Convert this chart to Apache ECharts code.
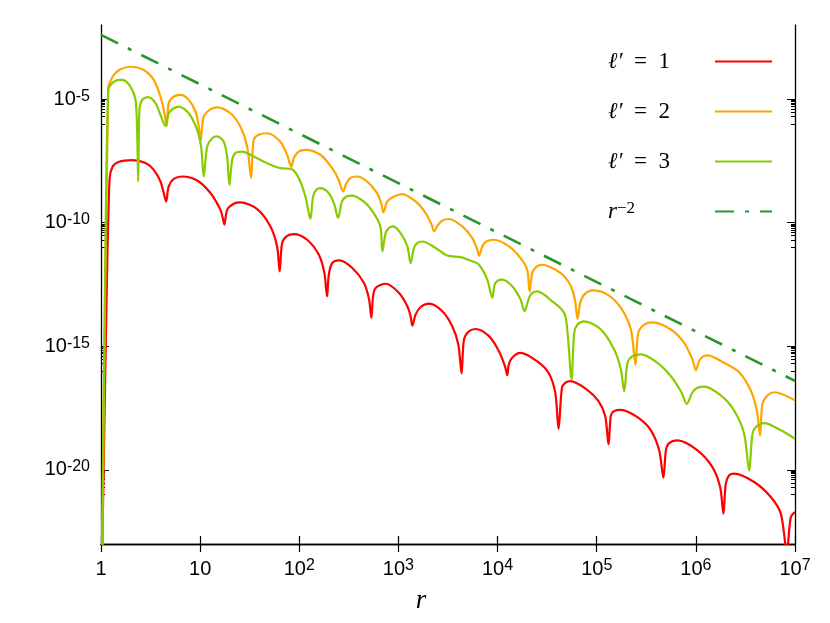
<!DOCTYPE html>
<html>
<head>
<meta charset="utf-8">
<script src="https://cdn.jsdelivr.net/npm/echarts@6/dist/echarts.min.js"></script>
<style>
html, body { margin: 0; padding: 0; background: #fff; }
#chart { width: 830px; height: 623px; }
</style>
</head>
<body>
<div id="chart"></div>
<script>
'use strict';

// values, stored as [log10 r, log10 value]
var red = [
    [0.012, -23.5], [0.055, -13.39], [0.086, -8.26], [0.116, -7.74], [0.176, -7.54],
    [0.315, -7.47], [0.449, -7.58], [0.532, -7.86], [0.600, -8.33], [0.633, -8.80], [0.657, -9.14],
    [0.683, -8.53], [0.734, -8.23], [0.819, -8.13], [0.970, -8.29], [1.104, -8.80], [1.205, -9.48], [1.228, -9.81], [1.245, -10.08],
    [1.272, -9.48], [1.339, -9.23], [1.406, -9.18], [1.575, -9.45], [1.709, -10.15], [1.776, -10.96], [1.802, -11.97],
    [1.827, -10.82], [1.877, -10.53], [1.944, -10.46], [2.079, -10.69], [2.196, -11.29], [2.253, -12.03], [2.280, -12.98],
    [2.298, -12.10], [2.334, -11.62], [2.404, -11.52], [2.535, -11.83], [2.653, -12.44], [2.704, -13.11], [2.727, -13.85],
    [2.744, -12.98], [2.770, -12.64], [2.871, -12.47], [3.006, -12.84], [3.090, -13.38], [3.123, -13.79], [3.140, -14.16],
    [3.173, -13.72], [3.224, -13.41], [3.308, -13.27], [3.443, -13.58], [3.543, -14.19], [3.604, -14.93], [3.637, -16.10],
    [3.661, -14.73], [3.712, -14.39], [3.778, -14.30], [3.913, -14.59], [4.014, -15.20], [4.075, -15.81], [4.098, -16.17],
    [4.113, -15.74], [4.145, -15.47], [4.229, -15.27], [4.397, -15.60], [4.514, -16.07], [4.582, -16.88], [4.615, -18.34],
    [4.649, -16.68], [4.682, -16.48], [4.733, -16.41], [4.901, -16.75], [5.018, -17.22], [5.086, -17.83], [5.119, -18.97],
    [5.143, -17.80], [5.176, -17.62], [5.244, -17.57], [5.411, -17.87], [5.546, -18.40], [5.630, -19.21], [5.673, -20.32],
    [5.698, -19.21], [5.731, -18.92], [5.815, -18.81], [6.016, -19.21], [6.167, -19.89], [6.245, -20.70], [6.278, -21.77],
    [6.302, -20.56], [6.336, -20.22], [6.386, -20.15], [6.588, -20.49], [6.756, -21.10], [6.857, -21.77], [6.917, -23.3],
    [6.958, -21.91], [7.0, -21.71]
];
var orange = [
    [0.012, -23.5], [0.040, -13.39], [0.073, -4.49],
    [0.079, -4.42], [0.129, -4.02], [0.197, -3.79], [0.297, -3.69], [0.431, -3.82], [0.532, -4.22], [0.600, -4.90], [0.640, -5.57], [0.663, -6.08],
    [0.683, -5.16], [0.734, -4.90], [0.801, -4.83], [0.885, -5.03], [0.953, -5.50], [0.986, -6.11], [1.003, -6.72],
    [1.036, -5.71], [1.104, -5.41], [1.171, -5.33], [1.305, -5.57], [1.406, -6.11], [1.474, -6.92], [1.514, -8.19],
    [1.540, -6.65], [1.591, -6.44], [1.675, -6.38], [1.809, -6.72], [1.877, -7.25], [1.920, -7.75],
    [1.944, -7.39], [1.994, -7.12], [2.062, -7.05], [2.213, -7.25], [2.331, -7.79], [2.397, -8.26], [2.442, -8.74],
    [2.475, -8.40], [2.515, -8.19], [2.583, -8.13], [2.683, -8.33], [2.784, -8.80], [2.825, -9.20], [2.848, -9.58],
    [2.888, -9.14], [2.956, -8.94], [3.039, -8.84], [3.173, -9.14], [3.274, -9.61], [3.335, -10.08], [3.359, -10.35],
    [3.402, -10.08], [3.443, -9.91], [3.510, -9.85], [3.644, -10.15], [3.745, -10.62], [3.795, -11.09], [3.813, -11.33],
    [3.846, -10.96], [3.886, -10.76], [3.964, -10.69], [4.115, -10.96], [4.232, -11.43], [4.299, -11.90], [4.323, -12.78],
    [4.350, -12.03], [4.390, -11.79], [4.451, -11.70], [4.585, -11.90], [4.672, -12.17], [4.740, -12.57], [4.780, -13.11], [4.806, -13.89],
    [4.834, -13.24], [4.874, -12.91], [4.958, -12.74], [5.109, -12.91], [5.244, -13.45], [5.345, -14.32], [5.391, -15.74],
    [5.418, -14.46], [5.479, -14.12], [5.563, -14.03], [5.748, -14.32], [5.882, -14.86], [5.966, -15.54], [6.000, -15.97],
    [6.033, -15.60], [6.067, -15.43], [6.117, -15.37], [6.285, -15.67], [6.437, -16.05], [6.554, -16.79], [6.615, -17.60], [6.648, -18.61],
    [6.671, -17.33], [6.722, -16.99], [6.789, -16.86], [7.0, -17.19]
];
var green = [
    [0.010, -23.5], [0.038, -13.39], [0.073, -4.63],
    [0.113, -4.36], [0.179, -4.22], [0.214, -4.22], [0.297, -4.49], [0.348, -5.03], [0.365, -6.38], [0.375, -8.33],
    [0.388, -5.43], [0.415, -5.03], [0.472, -4.92], [0.549, -5.16], [0.600, -5.64], [0.650, -6.08],
    [0.683, -5.57], [0.734, -5.37], [0.784, -5.30], [0.885, -5.57], [0.970, -6.24], [1.010, -6.92], [1.036, -8.13],
    [1.071, -6.92], [1.121, -6.58], [1.171, -6.51], [1.238, -6.72], [1.272, -7.32], [1.295, -8.47],
    [1.323, -7.46], [1.356, -7.18], [1.423, -7.12], [1.540, -7.32], [1.675, -7.59], [1.809, -7.79], [1.920, -7.83], [1.994, -8.19], [2.062, -8.94], [2.112, -9.85],
    [2.139, -8.94], [2.172, -8.67], [2.213, -8.60], [2.296, -8.80], [2.354, -9.27], [2.391, -9.81],
    [2.431, -9.14], [2.475, -8.94], [2.532, -8.90], [2.649, -9.14], [2.750, -9.61], [2.818, -10.15], [2.838, -11.16],
    [2.871, -10.42], [2.905, -10.21], [2.946, -10.15], [3.022, -10.42], [3.090, -10.96], [3.123, -11.63],
    [3.157, -11.02], [3.191, -10.82], [3.241, -10.76], [3.375, -11.02], [3.493, -11.33], [3.627, -11.39], [3.745, -11.56], [3.813, -11.70], [3.896, -12.30], [3.947, -13.04],
    [3.970, -12.51], [4.004, -12.33], [4.047, -12.30], [4.148, -12.57], [4.232, -13.11], [4.272, -13.58],
    [4.317, -13.04], [4.350, -12.84], [4.400, -12.78], [4.551, -13.18], [4.672, -13.65], [4.706, -14.46], [4.746, -16.34],
    [4.773, -14.46], [4.806, -14.12], [4.874, -13.99], [5.042, -14.32], [5.176, -15.13], [5.244, -15.94], [5.277, -16.82],
    [5.311, -15.67], [5.361, -15.40], [5.446, -15.33], [5.613, -15.67], [5.748, -16.21], [5.849, -16.82], [5.909, -17.33],
    [5.966, -16.86], [6.016, -16.68], [6.084, -16.63], [6.252, -16.99], [6.386, -17.60], [6.487, -18.54], [6.537, -20.02],
    [6.571, -18.54], [6.605, -18.27], [6.689, -18.11], [6.857, -18.40], [7.0, -18.74]
];
var guide = [[0, -2.4], [7, -16.4]];

var names = ['l1', 'l2', 'l3', 'r2'];
var colors = ['#ff0000', '#ffa500', '#88cc00', '#2a962a'];
var xTickExps = [0, 1, 2, 3, 4, 5, 6, 7];
var yTickExps = [-20, -15, -10, -5];
var minorSteps = [1, 2, 3, 4, 5, 6, 7, 8, 9];

var sans = 'Liberation Sans';
var serif = 'Liberation Serif';

function toData(list) {
    return list.map(function (p) {
        return [Math.pow(10, p[0]), Math.pow(10, p[1])];
    });
}

function powLabel(v) {
    var n = Math.round(Math.log(v) / Math.LN10);
    if (n === 0) return '{b|1}';
    if (n === 1) return '{b|10}';
    return '{b|10}{s|' + n + '}';
}

var yMajor = yTickExps.map(function (e) { return Math.pow(10, e); });
var yMinor = [];
yTickExps.forEach(function (e) {
    minorSteps.forEach(function (k) {
        yMinor.push(k * Math.pow(10, e - 1));
    });
});

var labelRich = {
    b: { fontFamily: sans, fontSize: 20, lineHeight: 22, color: '#000' },
    s: { fontFamily: sans, fontSize: 16, lineHeight: 12, verticalAlign: 'top', color: '#000' }
};
var frameLine = { show: true, lineStyle: { color: '#000', width: 1.3 } };

function xAxisOf(pos, labels) {
    return {
        type: 'log', logBase: 10, min: 1, max: 1e7, interval: 1, position: pos,
        axisLine: frameLine,
        axisTick: { show: true, inside: true, length: 8, lineStyle: { color: '#000', width: 1.2 } },
        minorTick: { show: false },
        splitLine: { show: false },
        axisLabel: { show: labels, margin: 14, formatter: powLabel, rich: labelRich },
        name: labels ? 'r' : '',
        nameLocation: 'middle',
        nameGap: 43,
        nameTextStyle: { fontFamily: serif, fontStyle: 'italic', fontSize: 27, color: '#000', padding: [0, 54, 0, 0] }
    };
}

function yAxisOf(pos, labels, ticks, len, line) {
    return {
        type: 'log', logBase: 10, min: 1e-23, max: 1e-2, position: pos,
        axisLine: line ? frameLine : { show: false },
        axisTick: { show: true, inside: true, length: len, customValues: ticks, lineStyle: { color: '#000', width: 1 } },
        minorTick: { show: false },
        splitLine: { show: false },
        axisLabel: { show: labels, margin: 11, customValues: yMajor, formatter: powLabel, rich: labelRich }
    };
}

function legendText(name) {
    if (name === 'r2') return '{ri|r}{rs|\u22122}';
    return '{li|\u2113\u2032}{ln|\u2002=\u2002' + name.charAt(1) + '}';
}

var lineSeries = [red, orange, green].map(function (list, i) {
    return {
        name: names[i],
        type: 'line',
        data: toData(list),
        showSymbol: false,
        symbol: 'none',
        smooth: 0.3,
        lineStyle: { color: colors[i], width: 2.2 },
        itemStyle: { color: colors[i] },
        z: 2 + i
    };
});
lineSeries.push({
    name: names[3],
    type: 'line',
    data: toData(guide),
    showSymbol: false,
    symbol: 'none',
    lineStyle: { color: colors[3], width: 2.6, type: [19, 11, 4, 11], cap: 'butt' },
    itemStyle: { color: colors[3] },
    z: 6
});

var chart = echarts.init(document.getElementById('chart'));
chart.setOption({
    animation: false,
    backgroundColor: '#fff',
    grid: { left: 101, right: 35, top: 25, bottom: 79, containLabel: false, outerBoundsMode: 'none' },
    legend: {
        orient: 'vertical',
        left: 603,
        top: 45,
        align: 'right',
        itemWidth: 57,
        itemHeight: 14,
        itemGap: 27,
        selectedMode: false,
        data: names,
        formatter: legendText,
        itemStyle: { opacity: 0 },
        textStyle: {
            width: 102,
            color: '#000',
            rich: {
                li: { fontFamily: serif, fontStyle: 'italic', fontSize: 23, lineHeight: 22, align: 'left', color: '#000' },
                ln: { fontFamily: serif, fontSize: 23, lineHeight: 22, align: 'left', color: '#000' },
                ri: { fontFamily: serif, fontStyle: 'italic', fontSize: 23, lineHeight: 22, align: 'left', color: '#000' },
                rs: { fontFamily: serif, fontSize: 17, lineHeight: 4, verticalAlign: 'top', align: 'left', color: '#000' }
            }
        }
    },
    xAxis: [xAxisOf('bottom', true), xAxisOf('top', false)],
    yAxis: [
        yAxisOf('left', true, yMajor, 8, true),
        yAxisOf('right', false, yMajor, 8, true),
        yAxisOf('left', false, yMinor, 4, false),
        yAxisOf('right', false, yMinor, 4, false)
    ],
    series: lineSeries
});
</script>
</body>
</html>
